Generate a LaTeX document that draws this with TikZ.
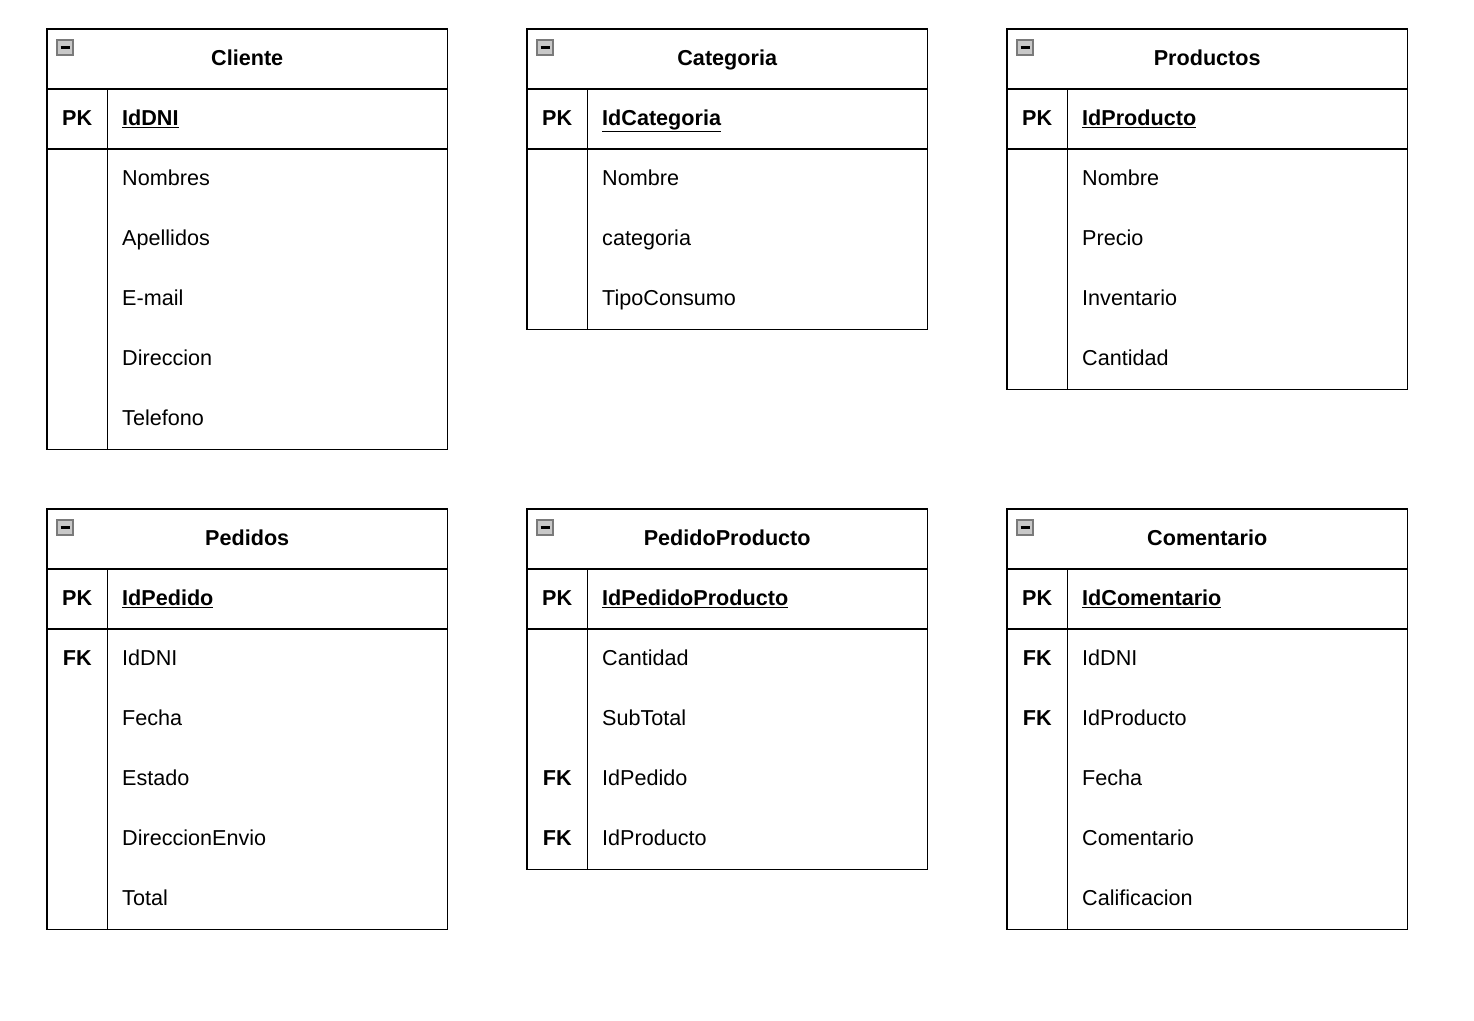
\documentclass[tikz,border=0pt]{standalone}
\usepackage{fontspec}
\setmainfont{Liberation Sans}
\usepackage{xcolor}
\usepackage{tikz}
\usetikzlibrary{positioning, calc}
\definecolor{inkblack}{HTML}{000000}
\definecolor{togglefill}{HTML}{C8C8C8}
\definecolor{toggleedge}{HTML}{7A7A7A}
\tikzset{
  hdr/.style={minimum width=400pt, minimum height=60pt, inner sep=0pt,
              text height=16.5pt, text depth=3.5pt, font=\fontsize{21.6}{26}\selectfont\bfseries},
  keycell/.style={minimum width=60pt, minimum height=60pt, inner sep=0pt,
              text height=16.5pt, text depth=3.5pt, font=\fontsize{21.6}{26}\selectfont\bfseries},
  fieldcell/.style={text width=310pt, inner xsep=15pt, inner ysep=0pt, minimum height=60pt,
              align=left, text height=16.5pt, text depth=3.5pt, font=\fontsize{21.6}{26}\selectfont},
  tablerule/.style={draw=inkblack, line width=1.8pt},
  toggle/.style={fill=togglefill, draw=toggleedge, line width=1.2pt},
}
% #1 name, #2/#3 top left corner, #4 title, #5 primary key, #6 key/field rows
\newcommand{\ertable}[6]{%
  \begin{scope}[shift={(#2,#3)}]
    \node[hdr, anchor=north west] (#1-head) at (0,0) {#4};
    \node[keycell, anchor=north west] (#1-pkkey) at (0,60) {PK};
    \node[fieldcell, anchor=north west, font=\fontsize{21.6}{26}\selectfont\bfseries] (#1-pk) at (60,60) {\underline{#5}};
    \foreach \k/\f [count=\i] in {#6} {
      \node[keycell, anchor=north west] (#1-k\i) at (0,60+60*\i) {\k};
      \node[fieldcell, anchor=north west] (#1-f\i) at (60,60+60*\i) {\f};
      \xdef\nrows{\i}
    }
    % outline and rules
    \draw[tablerule] (#1-head.north west) rectangle (#1-f\nrows.south east);
    \draw[tablerule] (#1-pkkey.north west) -- (#1-pk.north east);
    \draw[tablerule] (#1-k1.north west) -- (#1-f1.north east);
    \draw[tablerule] (#1-pkkey.north east) -- (#1-k\nrows.south east);
    % collapse toggle
    \draw[toggle] (10,11) rectangle (26,26);
    \draw[inkblack, line width=2.4pt] (13.5,18.5) -- (22.5,18.5);
  \end{scope}
}

\begin{document}
\begin{tikzpicture}[x=1pt, y=-1pt]
  \useasboundingbox (0,0) rectangle (1474,1020);
  \fill[white] (0,0) rectangle (1474,1020);

  \ertable{Cliente}{47}{29}{Cliente}{IdDNI}{/Nombres,/Apellidos,/E-mail,/Direccion,/Telefono}
  \ertable{Categoria}{527}{29}{Categoria}{IdCategoria}{/Nombre,/categoria,/TipoConsumo}
  \ertable{Productos}{1007}{29}{Productos}{IdProducto}{/Nombre,/Precio,/Inventario,/Cantidad}

  \ertable{Pedidos}{47}{509}{Pedidos}{IdPedido}{FK/IdDNI,/Fecha,/Estado,/DireccionEnvio,/Total}
  \ertable{PedidoProducto}{527}{509}{PedidoProducto}{IdPedidoProducto}{/Cantidad,/SubTotal,FK/IdPedido,FK/IdProducto}
  \ertable{Comentario}{1007}{509}{Comentario}{IdComentario}{FK/IdDNI,FK/IdProducto,/Fecha,/Comentario,/Calificacion}
\end{tikzpicture}
\end{document}
